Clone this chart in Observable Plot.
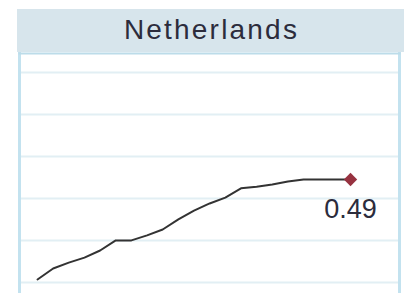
<!DOCTYPE html>
<html>
<head>
<meta charset="utf-8">
<script src="https://cdn.jsdelivr.net/npm/d3@7"></script>
<script src="https://cdn.jsdelivr.net/npm/@observablehq/plot@0.6"></script>
<style>
  html, body { margin: 0; padding: 0; background: #fff; overflow: hidden; }
  #header {
    margin: 9px 0 0 17px; width: 387px; height: 43px; box-sizing: border-box;
    padding-left: 2px;
    background: #d7e5ec; color: #2c2c3c;
    font-family: "Liberation Sans", Arial, sans-serif; font-size: 28px;
    line-height: 42px; text-align: center; letter-spacing: 2.2px;
  }
  #chart svg { display: block; }
</style>
</head>
<body>
<div id="header"></div>
<div id="chart"></div>
<script>
const title = "Netherlands";
const years = [2000,2001,2002,2003,2004,2005,2006,2007,2008,2009,2010,2011,2012,2013,2014,2015,2016,2017,2018,2019,2020];
const values = [0.252,0.278,0.292,0.304,0.321,0.345,0.345,0.357,0.371,0.395,0.416,0.433,0.447,0.469,0.473,0.478,0.485,0.49,0.49,0.49,0.49];
const gridValues = [0.245,0.345,0.445,0.545,0.645,0.745];

document.getElementById("header").textContent = title;

const data = years.map((y, i) => ({year: y, value: values[i]}));
const last = data[data.length - 1];

const chart = Plot.plot({
  width: 404,
  height: 241,
  marginTop: 1,
  marginBottom: 0,
  marginLeft: 19,
  marginRight: 5,
  x: {domain: [1998.85, 2023.13], axis: null},
  y: {domain: [0.2186, 0.79], axis: null},
  style: {fontFamily: "'Liberation Sans', Arial, sans-serif", background: "#fff"},
  marks: [
    Plot.ruleY(gridValues, {stroke: "#e2eff4", strokeWidth: 2}),
    Plot.frame({anchor: "left", stroke: "#c3e2ef", strokeWidth: 3}),
    Plot.frame({anchor: "right", stroke: "#c3e2ef", strokeWidth: 3}),
    Plot.frame({anchor: "top", stroke: "#bcdce9", strokeWidth: 2}),
    Plot.line(data, {x: "year", y: "value", stroke: "#333", strokeWidth: 2}),
    Plot.dot([last], {x: "year", y: "value", symbol: "diamond2", r: 6, fill: "#973240", stroke: "none"}),
    Plot.text([last], {x: "year", y: "value", text: d => d.value.toFixed(2), dy: 30, fontSize: 27, fill: "#2c2c3c"})
  ]
});
document.getElementById("chart").appendChild(chart);
</script>
</body>
</html>
